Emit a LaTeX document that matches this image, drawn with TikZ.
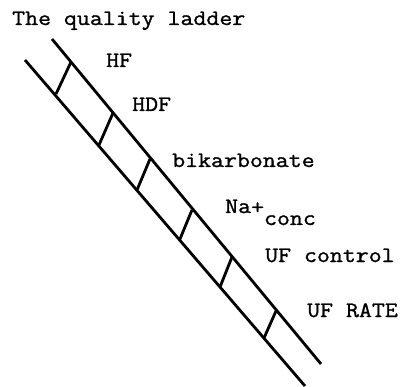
\documentclass[tikz,border=0pt]{standalone}
\usepackage{fontspec}
\setmonofont[FakeStretch=1.143,FakeBold=1.2]{Latin Modern Mono}
\begin{document}
\begin{tikzpicture}[x=1pt,y=-1pt,
  rail/.style={line width=2.8pt},
  rung/.style={line width=2.8pt},
  lbl/.style={anchor=base west,inner sep=0pt,font=\fontsize{22}{24}\selectfont\ttfamily}]
\useasboundingbox (0,0) rectangle (401,387);
% rails
\coordinate (rt) at (52,39);
\coordinate (rb) at (321,364);
\coordinate (lt) at (25,60);
\coordinate (lb) at (305,386);
\draw[rail] (rt) -- (rb);
\draw[rail] (lt) -- (lb);
% rungs
\foreach \i/\ax/\ay/\bx/\by in {1/71/62/56/94, 2/113/113/99/145, 3/150/159/137/190, 4/192/210/180/239, 5/232/257/220/287, 6/276/311/264/338}{
  \coordinate (u\i) at (\ax,\ay);
  \coordinate (d\i) at (\bx,\by);
  \draw[rung] (u\i) -- (d\i);
}
% labels
\node[lbl] (title) at (12,25) {The quality ladder};
\node[lbl] (hf) at (106,67) {HF};
\node[lbl] (hdf) at (132,111) {HDF};
\node[lbl] (bik) at (172,167) {bikarbonate};
\node[lbl] (na) at (225,213) {Na\raisebox{-1pt}{+}\raisebox{-12pt}{conc}};
\node[lbl] (ufc) at (265,262) {UF control};
\node[lbl] (ufr) at (307,317) {UF RATE};
\end{tikzpicture}
\end{document}
